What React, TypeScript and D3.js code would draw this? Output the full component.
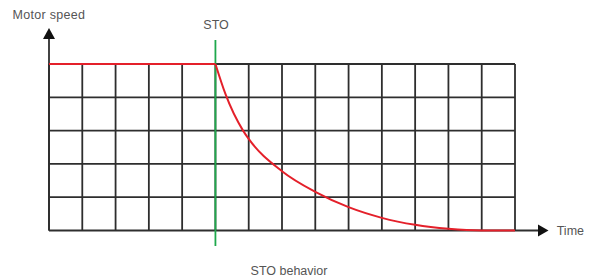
import React from "react";
import * as d3 from "d3";

const columns = d3.range(0, 15); // vertical grid positions (time units)
const rows = d3.range(0, 6); // horizontal grid positions (speed units)
const flatTime = [0, 5];
const flatSpeed = [5, 5];
const decayTime = [5, 5.3, 5.83, 6, 7, 8, 9, 10, 11, 12, 13, 14];
const decaySpeed = [5, 4.1, 3.0, 2.75, 1.78, 1.16, 0.7, 0.38, 0.17, 0.05, 0.0, 0.0];
const stoTime = 5;
const labels = { yAxis: "Motor speed", xAxis: "Time", sto: "STO", title: "STO behavior" };

export default function App() {
  const W = 589, H = 279;
  const x = d3.scaleLinear().domain([0, 14]).range([49, 515]);
  const y = d3.scaleLinear().domain([0, 5]).range([230.5, 64]);
  const gridColor = "#2e2e2e";
  const textColor = "#555";
  const font = "'Liberation Sans', Arial, sans-serif";

  const flatLine = d3.line<number>().x((d, i) => x(flatTime[i])).y((d) => y(d));
  const decayLine = d3
    .line<number>()
    .x((d, i) => x(decayTime[i]))
    .y((d) => y(d))
    .curve(d3.curveMonotoneX);

  const x0 = x(0), y0 = y(0);
  const xEnd = x(14);
  return (
    <svg width={W} height={H} style={{ position: "absolute", left: 0, top: 0 }}>
      <rect width={W} height={H} fill="#fff" />
      {/* grid */}
      {columns.map((c) => (
        <line key={"v" + c} x1={x(c)} x2={x(c)} y1={y(5)} y2={y(0)} stroke={gridColor} strokeWidth={1.8} />
      ))}
      {rows.slice(1).map((r) => (
        <line key={"h" + r} x1={x0} x2={xEnd} y1={y(r)} y2={y(r)} stroke={gridColor} strokeWidth={1.8} />
      ))}
      {/* x axis */}
      <line x1={x0} x2={538} y1={y0} y2={y0} stroke={gridColor} strokeWidth={1.8} />
      <path d={`M538,${y0 - 6}L548.5,${y0}L538,${y0 + 6}Z`} fill="#111" />
      {/* y axis */}
      <line x1={x0} x2={x0} y1={y0} y2={39} stroke={gridColor} strokeWidth={1.8} />
      <path d={`M${x0 - 6},39L${x0},28L${x0 + 6},39Z`} fill="#111" />
      {/* STO line */}
      <line x1={x(stoTime)} x2={x(stoTime)} y1={40} y2={246} stroke="#1ea84c" strokeWidth={1.8} />
      {/* speed curve */}
      <path d={flatLine(flatSpeed) || ""} fill="none" stroke="#e4202a" strokeWidth={2} />
      <path d={decayLine(decaySpeed) || ""} fill="none" stroke="#e4202a" strokeWidth={2} />
      {/* labels */}
      <text x={12.5} y={18.7} fontFamily={font} fontSize={12.5} letterSpacing={0.3} fill={textColor}>
        {labels.yAxis}
      </text>
      <text x={203.3} y={28.7} fontFamily={font} fontSize={12.5} fill={textColor}>
        {labels.sto}
      </text>
      <text x={556.7} y={235} fontFamily={font} fontSize={12.5} fill={textColor}>
        {labels.xAxis}
      </text>
      <text x={289} y={275} textAnchor="middle" fontFamily={font} fontSize={12.5} fill={textColor}>
        {labels.title}
      </text>
    </svg>
  );
}
